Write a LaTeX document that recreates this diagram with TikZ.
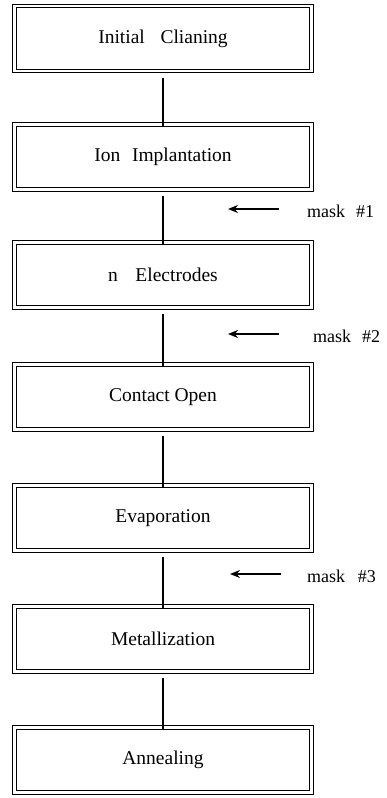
\documentclass[tikz,border=0pt]{standalone}
\usepackage{fontspec}
\setmainfont{Liberation Serif}
\usetikzlibrary{arrows.meta}
\begin{document}
\begin{tikzpicture}[x=1pt,y=-1pt,
  stepbox/.style={draw, line width=1.2pt, double distance=2.4pt, minimum width=297pt, minimum height=65pt, inner sep=0pt, font=\fontsize{19.5}{22}\selectfont},
  conn/.style={line width=2.8pt},
  maskarrow/.style={line width=1.6pt, -{Stealth[length=10pt,width=8pt]}},
  masklabel/.style={anchor=west, inner sep=0pt, font=\fontsize{18}{21}\selectfont}]
\useasboundingbox (0,0) rectangle (386,798);
\node[stepbox] (s1) at (163,38.5) {Initial\hspace{0.8em}Clianing};
\node[stepbox] (s2) at (163,157) {Ion\hspace{0.6em}Implantation};
\node[stepbox] (s3) at (163,275) {n\hspace{0.9em}Electrodes};
\node[stepbox] (s4) at (163,397) {Contact Open};
\node[stepbox] (s5) at (163,518) {Evaporation};
\node[stepbox] (s6) at (163,639) {Metallization};
\node[stepbox] (s7) at (163,760) {Annealing};
\foreach \a/\b in {s1/s2,s2/s3,s3/s4,s4/s5,s5/s6,s6/s7}
  \draw[conn] ([yshift=-6pt]\a.south) -- ([yshift=-3pt]\b.north);
\coordinate (a1s) at (279,209); \coordinate (a1e) at (228,209);
\coordinate (a2s) at (279,334); \coordinate (a2e) at (228,334);
\coordinate (a3s) at (281,574); \coordinate (a3e) at (230,574);
\draw[maskarrow] (a1s) -- (a1e);
\draw[maskarrow] (a2s) -- (a2e);
\draw[maskarrow] (a3s) -- (a3e);
\node[masklabel] (m1) at (307,211) {mask\hspace{0.6em}\#1};
\node[masklabel] (m2) at (313,336) {mask\hspace{0.6em}\#2};
\node[masklabel] (m3) at (307,576) {mask\hspace{0.7em}\#3};
\end{tikzpicture}
\end{document}
